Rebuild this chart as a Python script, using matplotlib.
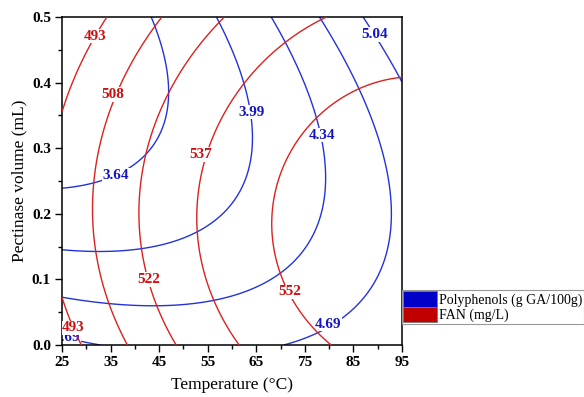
import numpy as np
import matplotlib
matplotlib.use("Agg")
import matplotlib.pyplot as plt
from matplotlib.patches import Patch
from matplotlib.ticker import MultipleLocator, FormatStrFormatter

plt.rcParams['font.family'] = ['Liberation Serif', 'DejaVu Serif']

# design space: temperature (°C) and pectinase volume (mL)
temp_range = [25, 95]
vol_range = [0.0, 0.5]
temp_ticks = [25, 35, 45, 55, 65, 75, 85, 95]
temp_center, temp_step = 60, 35
vol_center, vol_step = 0.25, 0.25

# response surface coefficients in coded units
# terms: 1, X1, X2, X1^2, X2^2, X1*X2 (+ X1^3, X1^2*X2, X1*X2^2, X2^3 for FAN)
pp_coef = [3.9449, 0.5830, -0.2739, 0.2446, 0.4135, 0.4681]
fan_coef = [543.836, 33.846, -7.122, -13.515, -14.368, -2.264,
            -1.072, 0.140, 0.547, 1.110]

pp_levels = [3.64, 3.99, 4.34, 4.69, 5.04]
fan_levels = [493, 508, 522, 537, 552]

# label positions (temperature, volume)
pp_labels = [("3.64", 36.1, 0.259), ("3.99", 64.1, 0.355), ("4.34", 78.5, 0.320),
             ("4.69", 79.8, 0.032), ("5.04", 89.4, 0.473), ("4.69", 26.0, 0.012)]
fan_labels = [("493", 31.8, 0.471), ("508", 35.5, 0.382), ("537", 53.6, 0.290),
              ("522", 42.9, 0.100), ("552", 71.9, 0.081), ("493", 27.3, 0.026)]

pp_name = "Polyphenols (g GA/100g)"
fan_name = "FAN (mg/L)"

line_blue, text_blue, patch_blue = "#2233dd", "#1414c8", "#0000c8"
line_red, text_red, patch_red = "#dd2020", "#cc1010", "#c00000"


def surface(coef, t, v):
    a = (t - temp_center) / temp_step
    b = (v - vol_center) / vol_step
    terms = [np.ones_like(a), a, b, a * a, b * b, a * b,
             a ** 3, a * a * b, a * b * b, b ** 3]
    return sum(c * x for c, x in zip(coef, terms))


T, V = np.meshgrid(np.linspace(*temp_range, 300), np.linspace(*vol_range, 300))

fig = plt.figure(figsize=(5.84, 3.97), dpi=100)
ax = fig.add_axes([62 / 584, 52 / 397, 340 / 584, 328 / 397])

ax.contour(T, V, surface(pp_coef, T, V), levels=pp_levels,
           colors=line_blue, linewidths=1.0, zorder=1)
for s, x, y in pp_labels:
    ax.text(x, y, s, color=text_blue, fontsize=11, fontweight='bold',
            ha='center', va='center', zorder=2, clip_on=True,
            bbox=dict(fc='white', ec='none', pad=0.6))

ax.contour(T, V, surface(fan_coef, T, V), levels=fan_levels,
           colors=line_red, linewidths=1.0, zorder=3)
for s, x, y in fan_labels:
    ax.text(x, y, s, color=text_red, fontsize=11, fontweight='bold',
            ha='center', va='center', zorder=4, clip_on=True,
            bbox=dict(fc='white', ec='none', pad=0.6))

ax.set_xlim(temp_range)
ax.set_ylim(vol_range)
ax.set_xticks(temp_ticks)
ax.xaxis.set_minor_locator(MultipleLocator(5))
ax.yaxis.set_major_locator(MultipleLocator(0.1))
ax.yaxis.set_minor_locator(MultipleLocator(0.05))
ax.yaxis.set_major_formatter(FormatStrFormatter('%.1f'))
ax.tick_params(which='both', direction='out', top=False, right=False, width=1)
ax.tick_params(which='major', length=5, labelsize=11, pad=3)
ax.tick_params(which='minor', length=3)
for lab in ax.get_xticklabels() + ax.get_yticklabels():
    lab.set_fontweight('bold')
for sp in ax.spines.values():
    sp.set_linewidth(1.1)

ax.set_xlabel("Temperature (°C)", fontsize=12.5, labelpad=6)
ax.set_ylabel("Pectinase volume (mL)", fontsize=12.5, labelpad=3)

handles = [Patch(fc=patch_blue, ec='#777777', lw=0.6, label=pp_name),
           Patch(fc=patch_red, ec='#777777', lw=0.6, label=fan_name)]
leg = fig.legend(handles=handles, loc='upper left',
                 bbox_to_anchor=(402 / 584, 1 - 290 / 397), borderaxespad=0,
                 fontsize=10, handlelength=2.4, handleheight=1.3,
                 handletextpad=0.15, labelspacing=0.0, borderpad=0.1,
                 fancybox=False, framealpha=1, edgecolor='#999999')
leg.get_frame().set_linewidth(0.8)

fig.savefig("out.png", dpi=100)
